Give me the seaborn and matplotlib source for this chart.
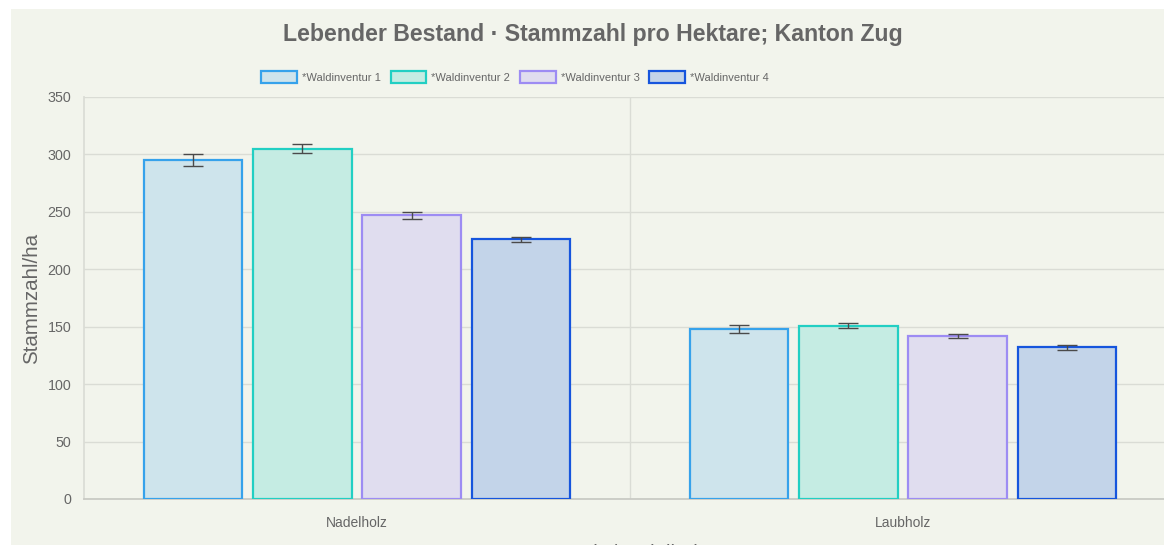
import pandas as pd
import matplotlib.pyplot as plt
import seaborn as sns
from matplotlib.patches import Patch, Rectangle

# ------------------------------------------------------------
# Data
# ------------------------------------------------------------
categories = ["Nadelholz", "Laubholz"]
inventories = ["*Waldinventur 1", "*Waldinventur 2", "*Waldinventur 3", "*Waldinventur 4"]

nadelholz_values = [295, 305, 247, 226]
laubholz_values = [148, 151, 142, 132]
nadelholz_errors = [5, 4, 3, 2.5]
laubholz_errors = [3.6, 2.3, 2, 1.9]

fill_colors = ["#cee4ec", "#c5ece3", "#e0ddef", "#c3d4e9"]
edge_colors = ["#36a2eb", "#22cfc3", "#9d8cf3", "#1655dd"]

TEXT_COLOR = "#666666"
GRID_COLOR = "#dadcd5"
BG_COLOR = "#f2f4ec"

rows = []
for cat, vals, errs in [("Nadelholz", nadelholz_values, nadelholz_errors),
                        ("Laubholz", laubholz_values, laubholz_errors)]:
    for inv, v, e in zip(inventories, vals, errs):
        rows.append({"holz": cat, "inventur": inv, "wert": v, "fehler": e})
df = pd.DataFrame(rows)

# ------------------------------------------------------------
# Figure
# ------------------------------------------------------------
sns.set_theme(style="white")
plt.rcParams["font.family"] = ["Liberation Sans", "DejaVu Sans"]

fig = plt.figure(figsize=(11.64, 5.45), dpi=100, facecolor="white")
fig.patches.append(Rectangle((11 / 1164, 0), 1, 1 - 9 / 545, transform=fig.transFigure,
                             facecolor=BG_COLOR, edgecolor="none", zorder=-10))

ax = fig.add_axes([84 / 1164, 1 - 499 / 545, 1092 / 1164, 402 / 545])
ax.set_facecolor("none")

sns.barplot(data=df, x="holz", y="wert", hue="inventur", order=categories,
            hue_order=inventories, palette=fill_colors, saturation=1,
            width=0.8, gap=0.1, errorbar=None, legend=False, ax=ax, zorder=3)

for container, ec, inv in zip(ax.containers, edge_colors, inventories):
    sub = df[df["inventur"] == inv].set_index("holz").loc[categories]
    xs = []
    for bar in container:
        bar.set_edgecolor(ec)
        bar.set_linewidth(1.6)
        xs.append(bar.get_x() + bar.get_width() / 2)
    ax.errorbar(xs, sub["wert"], yerr=sub["fehler"], fmt="none", ecolor="#4a4a4a",
                elinewidth=1, capsize=7, capthick=1, zorder=4)

# axes styling
ax.set_ylim(0, 350)
ax.set_xlim(-0.5, 1.5)
ax.set_yticks(range(0, 351, 50))
ax.set_xticks([0, 1])
ax.set_xticks([0.5], minor=True)
ax.grid(True, axis="y", color=GRID_COLOR, linewidth=1, zorder=0)
ax.grid(True, axis="x", which="minor", color=GRID_COLOR, linewidth=1, zorder=0)
for side in ["top", "right"]:
    ax.spines[side].set_visible(False)
ax.spines["left"].set_color(GRID_COLOR)
ax.spines["bottom"].set_color("#c8c9c3")
ax.tick_params(axis="y", length=6, color=GRID_COLOR, labelsize=10.3,
               labelcolor=TEXT_COLOR, pad=3)
ax.tick_params(axis="x", which="major", length=0, labelsize=10,
               labelcolor=TEXT_COLOR, pad=12)
ax.tick_params(axis="x", which="minor", length=7, color=GRID_COLOR)

ax.set_ylabel("Stammzahl/ha", fontsize=14.8, color=TEXT_COLOR, labelpad=5)
ax.set_xlabel("*Laub-/Nadelholz", fontsize=14.8, color=TEXT_COLOR, labelpad=10)

fig.text(593 / 1164, 1 - 34 / 545, "Lebender Bestand · Stammzahl pro Hektare; Kanton Zug",
         ha="center", va="center", fontsize=16.7, fontweight="bold", color=TEXT_COLOR)

handles = [Patch(facecolor=fc, edgecolor=ec, linewidth=1.6)
           for fc, ec in zip(fill_colors, edge_colors)]
fig.legend(handles, inventories, loc="center", bbox_to_anchor=(515 / 1164, 1 - 77 / 545),
           ncol=4, frameon=False, fontsize=8.0, labelcolor=TEXT_COLOR,
           handlelength=3.2, handleheight=1.25, handletextpad=0.45, columnspacing=0.9)

fig.savefig("out.png", dpi=100, facecolor="white")
